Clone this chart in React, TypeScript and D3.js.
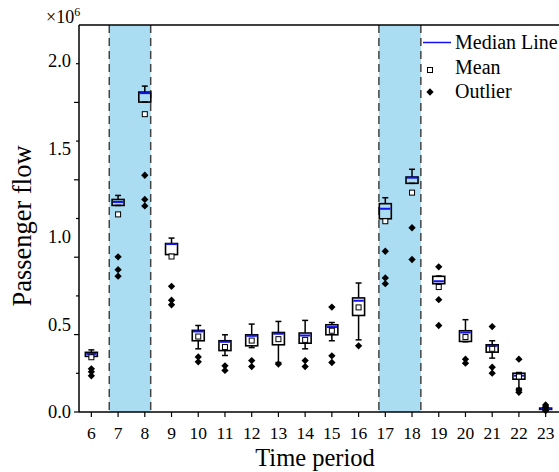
import React from "react";
import * as d3 from "d3";

// Passenger flow values in units of 10^6
const periods = [6, 7, 8, 9, 10, 11, 12, 13, 14, 15, 16, 17, 18, 19, 20, 21, 22, 23];
const whiskerHigh = [0.354, 1.234, 1.857, 0.991, 0.493, 0.44, 0.501, 0.516, 0.522, 0.51, 0.735, 1.221, 1.383, 0.775, 0.526, 0.406, 0.225, 0.027];
const q3 = [0.34, 1.211, 1.823, 0.96, 0.465, 0.406, 0.44, 0.453, 0.45, 0.497, 0.65, 1.187, 1.339, 0.773, 0.463, 0.383, 0.221, 0.022];
const medians = [0.331, 1.197, 1.817, 0.957, 0.459, 0.4, 0.434, 0.446, 0.436, 0.484, 0.634, 1.158, 1.335, 0.745, 0.453, 0.377, 0.207, 0.018];
const q1 = [0.317, 1.177, 1.766, 0.897, 0.406, 0.35, 0.377, 0.383, 0.392, 0.44, 0.55, 1.101, 1.303, 0.731, 0.402, 0.341, 0.187, 0.015];
const whiskerLow = [0.314, 1.177, 1.766, 0.897, 0.36, 0.322, 0.367, 0.282, 0.36, 0.406, 0.411, 1.101, 1.303, 0.731, 0.4, 0.307, 0.135, 0.012];
const means = [0.312, 1.126, 1.697, 0.886, 0.43, 0.37, 0.407, 0.415, 0.411, 0.463, 0.596, 1.087, 1.25, 0.712, 0.427, 0.36, 0.202, 0.018];
const outliers = [
  [0.246, 0.229, 0.206],
  [0.884, 0.811, 0.774],
  [1.349, 1.211, 1.174],
  [0.716, 0.637, 0.611],
  [0.314, 0.286],
  [0.263, 0.237],
  [0.293, 0.259],
  [0.273],
  [0.293, 0.259],
  [0.598, 0.32, 0.282],
  [0.377],
  [0.916, 0.764, 0.731],
  [1.05, 0.869],
  [0.827, 0.64, 0.493],
  [0.301, 0.278],
  [0.487, 0.255, 0.221],
  [0.301, 0.126, 0.112],
  [0.04, 0.025, 0.008],
];
const peakBands = [
  [6.67, 8.22],
  [16.76, 18.33],
];
const yLabelValues = [0, 0.5, 1.0, 1.5, 2.0];
const yMajorTicks = [0, 0.5, 1.0, 1.5, 2.0];
const yMinorTicks = [0.25, 0.75, 1.25, 1.75, 2.25];

const W = 559;
const H = 472;
const left = 79;
const top = 25;
const bottom = 412;
const right = 559;

const FONT = "'Liberation Serif', 'Times New Roman', Times, serif";
const txt = { fontFamily: FONT };

export default function App() {
  const x = d3.scaleLinear().domain([5.5, 23.5]).range([78, 559]);
  const y = d3.scaleLinear().domain([0, 2.0]).range([bottom, 61]);
  const yTick = d3.scaleLinear().domain([0, 2.5]).range([bottom, top]);
  const boxW = 12;
  const capW = 6;
  const diamond = d3.symbol().type(d3.symbolDiamond2).size(34)();

  return (
    <svg
      width={W}
      height={H}
      style={{ position: "absolute", left: 0, top: 0, background: "#fff" }}
    >
      {/* shaded peak bands */}
      {peakBands.map(([a, b], i) => (
        <g key={"band" + i}>
          <rect x={x(a)} y={top} width={x(b) - x(a)} height={bottom - top} fill="#aadcf2" />
          <line x1={x(a)} x2={x(a)} y1={top} y2={bottom} stroke="#444" strokeWidth={1.5} strokeDasharray="8,5" />
          <line x1={x(b)} x2={x(b)} y1={top} y2={bottom} stroke="#444" strokeWidth={1.5} strokeDasharray="8,5" />
        </g>
      ))}

      {/* boxes */}
      {periods.map((p, i) => {
        const cx = x(p);
        return (
          <g key={"box" + p}>
            <line x1={cx} x2={cx} y1={y(q3[i])} y2={y(whiskerHigh[i])} stroke="#000" strokeWidth={1.5} />
            <line x1={cx - capW / 2} x2={cx + capW / 2} y1={y(whiskerHigh[i])} y2={y(whiskerHigh[i])} stroke="#000" strokeWidth={1.5} />
            <line x1={cx} x2={cx} y1={y(q1[i])} y2={y(whiskerLow[i])} stroke="#000" strokeWidth={1.5} />
            <line x1={cx - capW / 2} x2={cx + capW / 2} y1={y(whiskerLow[i])} y2={y(whiskerLow[i])} stroke="#000" strokeWidth={1.5} />
            <rect
              x={cx - boxW / 2}
              y={y(q3[i])}
              width={boxW}
              height={Math.max(0.5, y(q1[i]) - y(q3[i]))}
              fill="none"
              stroke="#000"
              strokeWidth={1.6}
            />
            <line x1={cx - boxW / 2 + 0.8} x2={cx + boxW / 2 - 0.8} y1={y(medians[i])} y2={y(medians[i])} stroke="#1010f0" strokeWidth={2} />
            <rect x={cx - 2.5} y={y(means[i]) - 2.5} width={5} height={5} fill="#fff" stroke="#000" strokeWidth={1} />
            {outliers[i].map((o, j) => (
              <path key={j} d={diamond!} transform={`translate(${cx},${y(o)})`} fill="#000" />
            ))}
          </g>
        );
      })}

      {/* axes */}
      <line x1={left} x2={right} y1={top} y2={top} stroke="#000" strokeWidth={1.5} />
      <line x1={left} x2={left} y1={top} y2={bottom} stroke="#000" strokeWidth={1.5} />
      <line x1={left} x2={right} y1={bottom} y2={bottom} stroke="#000" strokeWidth={1.5} />

      {yMajorTicks.map((t) => (
        <line key={"ym" + t} x1={left - 5} x2={left} y1={yTick(t)} y2={yTick(t)} stroke="#000" strokeWidth={1.2} />
      ))}
      {yMinorTicks.map((t) => (
        <line key={"yn" + t} x1={left - 3} x2={left} y1={yTick(t)} y2={yTick(t)} stroke="#000" strokeWidth={1.2} />
      ))}
      {yLabelValues.map((t) => (
        <text key={"yl" + t} x={71} y={y(t)} dy="0.35em" textAnchor="end" fontSize={18.5} fill="#000" style={txt}>
          {d3.format(".1f")(t)}
        </text>
      ))}
      <text x={46} y={23} fontSize={18} fill="#000" style={txt}>
        ×10
        <tspan dy={-7} fontSize={12}>6</tspan>
      </text>

      {periods.map((p) => (
        <g key={"xt" + p}>
          <line x1={x(p)} x2={x(p)} y1={bottom} y2={bottom + 5} stroke="#000" strokeWidth={1.2} />
          <text x={x(p)} y={433} dy="0.35em" textAnchor="middle" fontSize={17.5} fill="#000" style={txt}>
            {p}
          </text>
        </g>
      ))}

      <text x={315} y={466} textAnchor="middle" fontSize={24.5} fill="#000" style={txt}>
        Time period
      </text>
      <text transform={`translate(31,226) rotate(-90)`} textAnchor="middle" fontSize={26.5} fill="#000" style={txt}>
        Passenger flow
      </text>

      {/* legend */}
      <line x1={423} x2={451} y1={42.5} y2={42.5} stroke="#1010f0" strokeWidth={1.5} />
      <text x={455} y={49} fontSize={20} fill="#000" style={txt}>Median Line</text>
      <rect x={427.5} y={67.5} width={5} height={5} fill="#fff" stroke="#000" strokeWidth={1} />
      <text x={455} y={74} fontSize={20} fill="#000" style={txt}>Mean</text>
      <path d={diamond!} transform="translate(430,92)" fill="#000" />
      <text x={455} y={98} fontSize={20} fill="#000" style={txt}>Outlier</text>
    </svg>
  );
}
